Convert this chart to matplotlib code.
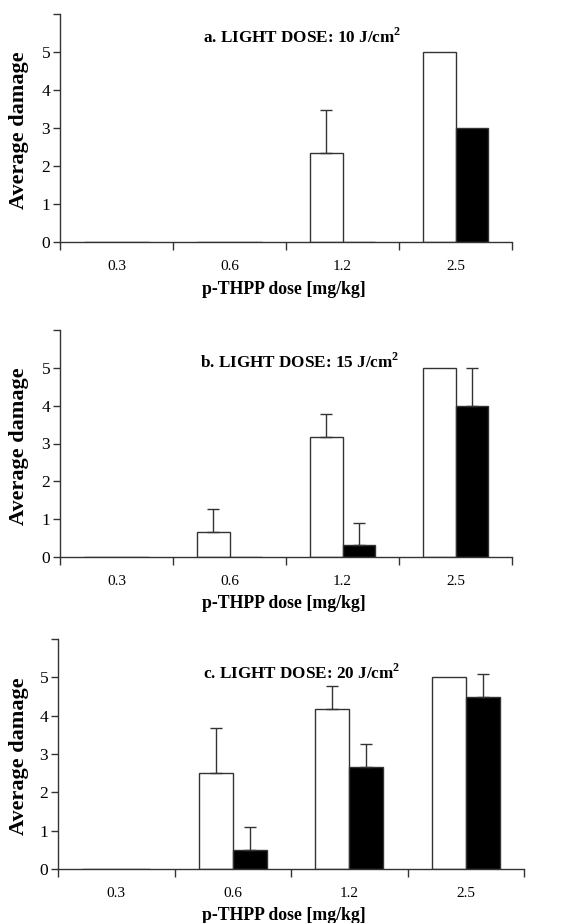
import numpy as np
import matplotlib
matplotlib.use("Agg")
import matplotlib.pyplot as plt

plt.rcParams["font.family"] = ["Liberation Serif", "DejaVu Serif"]
plt.rcParams["mathtext.fontset"] = "custom"
plt.rcParams["mathtext.bf"] = "Liberation Serif:bold"
plt.rcParams["mathtext.rm"] = "Liberation Serif:bold"

# ----------------------
# data
# ----------------------
doses = ["0.3", "0.6", "1.2", "2.5"]

a_white = [0, 0, 2.33, 5]
a_white_err = [0, 0, 1.15, 0]
a_black = [0, 0, 0, 3]
a_black_err = [0, 0, 0, 0]

b_white = [0, 0.67, 3.17, 5]
b_white_err = [0, 0.6, 0.6, 0]
b_black = [0, 0, 0.33, 4]
b_black_err = [0, 0, 0.57, 1.0]

c_white = [0, 2.5, 4.17, 5]
c_white_err = [0, 1.18, 0.6, 0]
c_black = [0, 0.5, 2.67, 4.5]
c_black_err = [0, 0.6, 0.6, 0.6]

titles = [
    r"a. LIGHT DOSE: 10 J/cm$^{\mathbf{2}}$",
    r"b. LIGHT DOSE: 15 J/cm$^{\mathbf{2}}$",
    r"c. LIGHT DOSE: 20 J/cm$^{\mathbf{2}}$",
]

panels = [
    (a_white, a_white_err, a_black, a_black_err),
    (b_white, b_white_err, b_black, b_black_err),
    (c_white, c_white_err, c_black, c_black_err),
]

# axes boxes in pixels: left, right, top, bottom ; title pos (axes frac)
W, H = 585, 923
boxes = [(60, 512, 14, 242), (60, 512, 330, 557), (58, 524, 639, 869)]
title_pos = [(0.535, 0.899), (0.531, 0.859), (0.524, 0.852)]

fig = plt.figure(figsize=(W / 100, H / 100), dpi=100)
x = np.arange(len(doses))
bw = 0.29
edge = "#333333"

for (l, r, t, b), ttl, tp, (w, we, k, ke) in zip(boxes, titles, title_pos, panels):
    ax = fig.add_axes([l / W, 1 - b / H, (r - l) / W, (b - t) / H])
    ax.bar(x - bw / 2, w, bw, color="white", edgecolor=edge, linewidth=1.0, zorder=2)
    ax.bar(x + bw / 2, k, bw, color="black", edgecolor=edge, linewidth=1.0, zorder=2)

    for off, vals, errs in [(-bw / 2, w, we), (bw / 2, k, ke)]:
        vals = np.array(vals, float)
        errs = np.array(errs, float)
        m = errs > 0
        ax.errorbar(x[m] + off, vals[m], yerr=[np.zeros(m.sum()), errs[m]],
                    fmt="none", ecolor=edge, elinewidth=1.0, capsize=4.5,
                    capthick=1.0, zorder=3)

    ax.set_xlim(-0.5, 3.5)
    ax.set_ylim(0, 6)
    ax.set_yticks(range(7))
    ax.set_yticklabels([str(i) for i in range(6)] + [""])
    ax.set_xticks(x)
    ax.set_xticklabels(doses)
    ax.set_xticks(np.arange(-0.5, 4.0, 1.0), minor=True)
    ax.tick_params(axis="x", which="major", length=0, pad=13, labelsize=11)
    ax.tick_params(axis="x", which="minor", length=6, width=1.0, direction="out", color=edge)
    ax.tick_params(axis="y", length=5, width=1.0, direction="out", pad=2, labelsize=12.5, color=edge)

    for s in ["top", "right"]:
        ax.spines[s].set_visible(False)
    for s in ["left", "bottom"]:
        ax.spines[s].set_color(edge)
        ax.spines[s].set_linewidth(1.0)

    ah = b - t
    aw = r - l
    ax.text(tp[0], tp[1], ttl, transform=ax.transAxes, ha="center", va="center",
            fontsize=12.3, fontweight="bold")
    ax.text((284 - l) / aw, -47 / ah, "p-THPP dose [mg/kg]", transform=ax.transAxes,
            ha="center", va="center", fontsize=12.8, fontweight="bold")
    ax.text((19 - l) / aw, 0.49, "Average damage", transform=ax.transAxes,
            ha="center", va="center", rotation=90, fontsize=16, fontweight="bold")

fig.savefig("out.png", dpi=100)
